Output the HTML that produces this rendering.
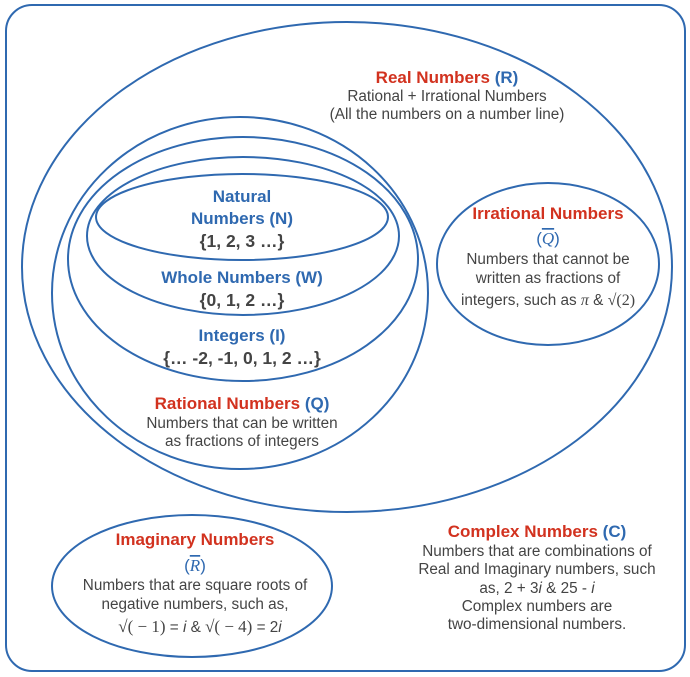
<!DOCTYPE html>
<html><head><meta charset="utf-8"><style>
html,body{margin:0;padding:0;background:#fff;}
svg{display:block;}
text{font-family:"Liberation Sans",sans-serif;text-anchor:middle;}
.t{font-size:17px;font-weight:bold;fill:#d2321f;}
.b{fill:#2f69b0;}
.bt{font-size:17px;font-weight:bold;fill:#2f69b0;}
.g{font-size:15.3px;fill:#444;}
.gs{font-size:17.5px;fill:#444;font-weight:bold;}
.m{font-family:"Liberation Serif",serif;font-style:italic;}
</style></head><body>
<svg width="690" height="677" viewBox="0 0 690 677" xmlns="http://www.w3.org/2000/svg">
<g fill="none" stroke="#2f69b0" stroke-width="2">
<rect x="6" y="5" width="679" height="666" rx="26"/>
<ellipse cx="347" cy="267" rx="325" ry="245"/>
<ellipse cx="240" cy="293" rx="188" ry="176"/>
<ellipse cx="243" cy="259" rx="175" ry="122"/>
<ellipse cx="243" cy="236" rx="156" ry="79"/>
<ellipse cx="242" cy="217" rx="146" ry="43"/>
<ellipse cx="548" cy="264" rx="111" ry="81"/>
<ellipse cx="192" cy="586" rx="140" ry="71"/>
</g>
<text x="447" y="83" class="t">Real Numbers <tspan class="b">(R)</tspan></text>
<text x="447" y="101" class="g">Rational + Irrational Numbers</text>
<text x="447" y="119" class="g">(All the numbers on a number line)</text>

<text x="242" y="202" class="bt">Natural</text>
<text x="242" y="224" class="bt">Numbers (N)</text>
<text x="242" y="247" class="gs">{1, 2, 3 …}</text>
<text x="242" y="283" class="bt">Whole Numbers (W)</text>
<text x="242" y="306" class="gs">{0, 1, 2 …}</text>
<text x="242" y="341" class="bt">Integers (I)</text>
<text x="242" y="364" class="gs">{… -2, -1, 0, 1, 2 …}</text>
<text x="242" y="409" class="t">Rational Numbers <tspan class="b">(Q)</tspan></text>
<text x="242" y="428" class="g">Numbers that can be written</text>
<text x="242" y="446" class="g">as fractions of integers</text>

<text x="548" y="219" class="t">Irrational Numbers</text>
<text x="548" y="244" class="b" style="font-size:17px">(<tspan class="m" text-decoration="overline">Q</tspan>)</text>
<text x="548" y="264" class="g">Numbers that cannot be</text>
<text x="548" y="283" class="g">written as fractions of</text>
<text x="548" y="305" class="g">integers, such as <tspan class="m" style="font-size:16px">π</tspan> &amp; <tspan style="font-family:'Liberation Serif',serif;font-size:16px">√(2)</tspan></text>

<text x="195" y="545" class="t">Imaginary Numbers</text>
<text x="195" y="571" class="b" style="font-size:17px">(<tspan class="m" text-decoration="overline">R</tspan>)</text>
<text x="195" y="590" class="g">Numbers that are square roots of</text>
<text x="195" y="609" class="g">negative numbers, such as,</text>
<text x="200" y="632" class="g"><tspan style="font-family:'Liberation Serif',serif;font-size:17px">√( − 1)</tspan> = <tspan font-style="italic">i</tspan>  &amp;  <tspan style="font-family:'Liberation Serif',serif;font-size:17px">√( − 4)</tspan> = 2<tspan font-style="italic">i</tspan></text>

<text x="537" y="537" class="t">Complex Numbers <tspan class="b">(C)</tspan></text>
<text x="537" y="556" class="g">Numbers that are combinations of</text>
<text x="537" y="574" class="g">Real and Imaginary numbers, such</text>
<text x="537" y="593" class="g">as,  2 + 3<tspan font-style="italic">i</tspan>  &amp;  25 - <tspan font-style="italic">i</tspan></text>
<text x="537" y="611" class="g">Complex numbers are</text>
<text x="537" y="629" class="g">two-dimensional numbers.</text>
</svg>
</body></html>
